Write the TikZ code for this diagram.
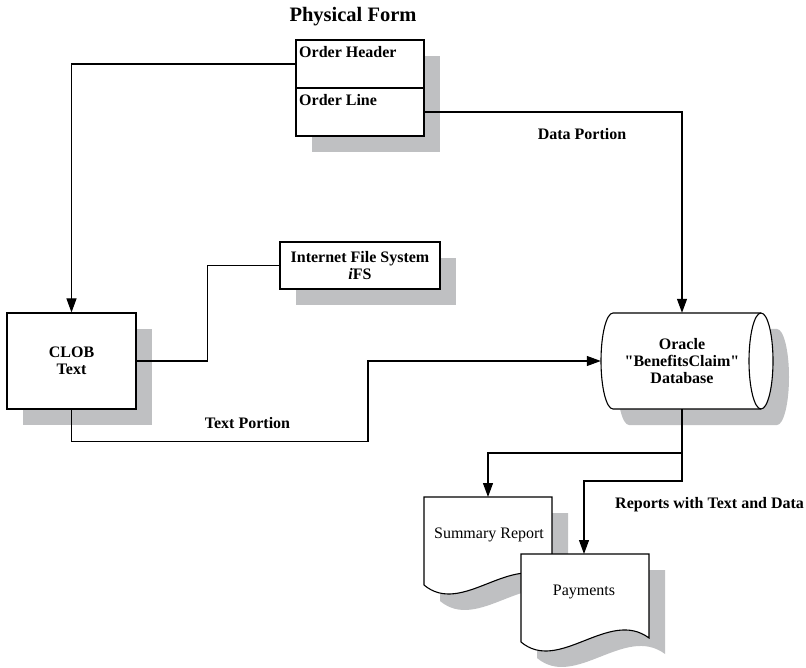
\documentclass[tikz,border=0pt]{standalone}
\usepackage{fontspec}
\setmainfont{Liberation Serif}
\usetikzlibrary{arrows.meta}
\definecolor{shadowgray}{RGB}{191,192,194}
\tikzset{
  boxshape/.style={draw=black, fill=white, line width=1.1pt, inner sep=0pt},
  conn/.style={draw=black, line width=1.1pt},
  arr/.style={conn, -{Triangle[length=14pt,width=10pt]}},
  lbl/.style={font=\fontsize{16}{17}\selectfont\bfseries, inner sep=0pt},
  plain/.style={font=\fontsize{16}{17}\selectfont, inner sep=0pt},
}
\newcommand\docoutline{(0,0) -- (128,0) -- (128,84) .. controls (88,54) and (38,120) .. (0,88) -- cycle}
\newcommand\dboutline{(613,313) -- (761,313) arc[start angle=90,end angle=-90,x radius=12pt,y radius=48pt] -- (613,409) arc[start angle=270,end angle=90,x radius=12pt,y radius=48pt] -- cycle}
\begin{document}
\begin{tikzpicture}[x=1pt,y=-1pt]
\useasboundingbox (0,0) rectangle (806,668);
% shadows
\fill[shadowgray] (312,56) rectangle (440,152);
\fill[shadowgray] (296,258) rectangle (456,305);
\fill[shadowgray] (23,329) rectangle (152,425);
\begin{scope}[shift={(16,16)}]
  \fill[shadowgray] \dboutline;
\end{scope}
% boxes
\node[boxshape, minimum width=128pt, minimum height=96pt] (ord) at (360,88) {};
\draw[conn] (ord.west) -- (ord.east);
\node[lbl, anchor=base west] (oh) at (299,57.7) {Order Header};
\node[lbl, anchor=base west] (ol) at (299,106) {Order Line};
\node[boxshape, minimum width=160pt, minimum height=47pt, align=center,
      font=\fontsize{16}{17}\selectfont\bfseries] (ifs) at (360,265.5)
      {Internet File System\\\textit{i}FS};
\node[boxshape, minimum width=129pt, minimum height=96pt, align=center,
      font=\fontsize{16}{17}\selectfont\bfseries] (clob) at (71.5,361) {CLOB\\Text};
% database
\draw[line width=1.1pt, fill=white] \dboutline;
\draw[line width=1.1pt] (761,313) arc[start angle=90,end angle=270,x radius=12pt,y radius=48pt];
\node[lbl, align=center, minimum width=162pt, minimum height=96pt] (db) at (682,361)
  {Oracle\\\textquotedbl BenefitsClaim\textquotedbl\\Database};
% documents
\begin{scope}[shift={(424,497)}]
  \fill[shadowgray, shift={(16,16)}] \docoutline;
  \draw[line width=1.1pt, fill=white] \docoutline;
\end{scope}
\begin{scope}[shift={(521,554)}]
  \fill[shadowgray, shift={(16,16)}] \docoutline;
  \draw[line width=1.1pt, fill=white] \docoutline;
\end{scope}
\node[plain] (sum) at (489,535) {Summary Report};
\node[plain] (pay) at (584,592) {Payments};
\coordinate (sumtop) at (488,497);
\coordinate (paytop) at (584,554);
% title and labels
\node[font=\fontsize{20.5}{22}\selectfont\bfseries, inner sep=0pt, anchor=base] (title) at (353,22) {Physical Form};
\node[lbl, anchor=base] (dp) at (582,140) {Data Portion};
\node[lbl, anchor=base] (tp) at (247.5,428) {Text Portion};
\node[lbl, anchor=base west] (rep) at (615,508) {Reports with Text and Data};
% connectors
\coordinate (tpc) at (368,441.7);
\coordinate (kb) at (207.7,361);
\coordinate (ja) at (682,453);
\coordinate (jb) at (682,481);
\draw[arr] ([yshift=24pt]ord.west) -| (clob.north);
\draw[arr] ([yshift=-24pt]ord.east) -| (db.north);
\draw[conn] (ifs.west) -| (kb) -- (clob.east);
\draw[arr] (clob.south) |- (tpc) |- (db.west);
\draw[arr] (db.south) -- (ja) -| (sumtop);
\draw[arr] (ja) -- (jb) -| (paytop);
\end{tikzpicture}
\end{document}
